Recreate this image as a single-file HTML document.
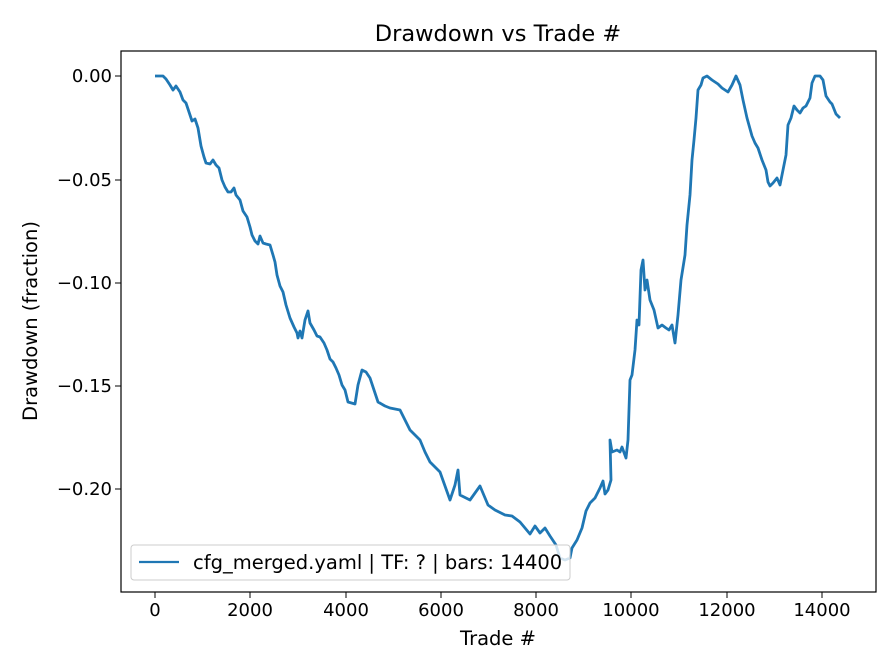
<html><body style="margin:0;background:#fff">
<svg width="896" height="672" xmlns="http://www.w3.org/2000/svg" font-family="DejaVu Sans, sans-serif">
<rect width="896" height="672" fill="#fff"/>
<text x="498" y="41" font-size="22.5" text-anchor="middle">Drawdown vs Trade #</text>
<polyline fill="none" stroke="#1f77b4" stroke-width="2.8" stroke-linejoin="round" points="155,76 163,76 166,79 170,85 173,90 176,86 180,92 183,100 186,103 190,115 192,121 195,119 198,128 201,146 204,157 206,163 210,164 213,160 216,165 219,168 222,180 225,187 228,192 231,192 234,188 236,195 240,200 243,211 247,217 250,227 252,235 255,241 258,244 260,236 263,243 266,244 270,245 273,255 275,262 277,275 280,286 283,292 286,305 290,318 294,327 297,333 298,338 300,331 302,338 305,320 308,311 310,323 314,330 317,336 320,337 324,343 327,350 330,359 333,362 336,368 339,375 342,385 345,390 348,402 355,404 358,385 362,370 366,372 370,378 374,390 378,402 385,406 390,408 400,410 405,420 410,430 420,440 425,452 430,462 440,472 450,500 455,485 458,470 460,495 470,500 480,486 488,505 495,510 505,515 512,516 520,522 530,534 535,526 540,533 545,528 550,536 556,545 560,558 565,560 570,558 572,548 577,540 582,528 586,511 590,503 595,498 600,488 603,481 605,494 608,490 611,480 610,440 612,452 617,450 620,452 622,447 626,458 628,440 630,380 632,375 635,350 637,320 639,325 641,270 643,260 645,290 647,280 650,300 654,310 658,328 662,325 666,328 669,330 672,325 675,343 678,315 681,280 685,255 687,225 690,195 692,160 694,140 696,118 698,90 701,85 703,78 707,76 712,80 718,84 722,88 728,92 732,85 736,76 740,85 743,100 747,118 752,136 755,143 758,148 762,160 766,170 768,182 770,186 773,183 777,178 780,185 783,170 786,155 788,125 791,118 794,106 797,110 800,113 803,108 806,106 810,98 812,83 815,76 820,76 823,80 826,96 830,102 832,104 836,114 840,118"/>
<rect x="121" y="51" width="755" height="541" fill="none" stroke="#000" stroke-width="1.2"/>
<g font-size="18" text-anchor="middle">
<g stroke="#000"><line x1="155" y1="592" x2="155" y2="598"/><line x1="250" y1="592" x2="250" y2="598"/><line x1="346" y1="592" x2="346" y2="598"/><line x1="441" y1="592" x2="441" y2="598"/><line x1="536" y1="592" x2="536" y2="598"/><line x1="631" y1="592" x2="631" y2="598"/><line x1="727" y1="592" x2="727" y2="598"/><line x1="822" y1="592" x2="822" y2="598"/></g>
<text x="155" y="616">0</text><text x="250" y="616">2000</text><text x="346" y="616">4000</text><text x="441" y="616">6000</text><text x="536" y="616">8000</text><text x="631" y="616">10000</text><text x="727" y="616">12000</text><text x="822" y="616">14000</text>
<text x="498" y="645" font-size="19.5">Trade #</text>
</g>
<g font-size="18" text-anchor="end">
<g stroke="#000"><line x1="115" y1="76" x2="121" y2="76"/><line x1="115" y1="180" x2="121" y2="180"/><line x1="115" y1="283" x2="121" y2="283"/><line x1="115" y1="386" x2="121" y2="386"/><line x1="115" y1="489" x2="121" y2="489"/></g>
<text x="112" y="82">0.00</text><text x="112" y="186">−0.05</text><text x="112" y="289">−0.10</text><text x="112" y="392">−0.15</text><text x="112" y="495">−0.20</text>
</g>
<text transform="translate(37,321) rotate(-90)" font-size="19.5" text-anchor="middle">Drawdown (fraction)</text>
<rect x="131" y="545" width="439" height="35" rx="3" fill="#fff" fill-opacity="0.8" stroke="#ccc"/>
<line x1="139" y1="562" x2="179" y2="562" stroke="#1f77b4" stroke-width="2.2"/>
<text x="193" y="569" font-size="19.5">cfg_merged.yaml | TF: ? | bars: 14400</text>
</svg>
</body></html>
